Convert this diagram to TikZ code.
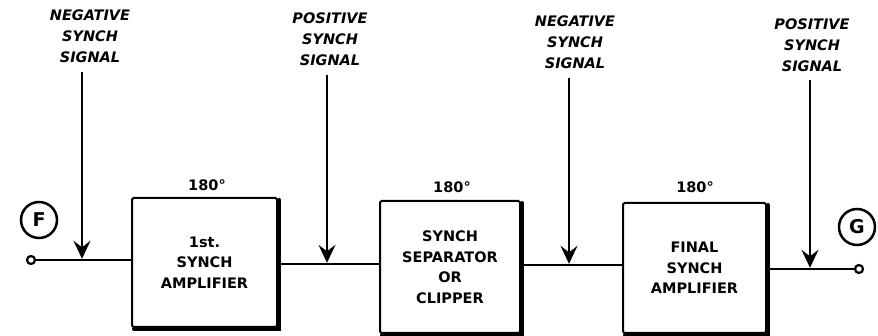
\documentclass[tikz,border=0pt]{standalone}
\usepackage{fontspec}
\setmainfont{DejaVu Sans}
\usetikzlibrary{arrows.meta}
\begin{document}
\begin{tikzpicture}[x=1pt,y=-1pt,
  blockbox/.style={draw, line width=2pt, rounded corners=1.5pt, align=center,
    font=\fontsize{14.5}{20.5}\selectfont\bfseries, inner sep=0pt},
  shadowline/.style={line width=4pt, line cap=round},
  siglabel/.style={align=center, font=\fontsize{14.5}{21}\selectfont\bfseries\itshape, inner sep=0pt},
  degree/.style={font=\fontsize{14.5}{16}\selectfont\bfseries, inner sep=0pt},
  letter/.style={draw, circle, line width=2.5pt, minimum size=36pt, inner sep=0pt,
    font=\fontsize{19}{21}\selectfont\bfseries},
  terminal/.style={draw, circle, line width=2.2pt, minimum size=8pt, inner sep=0pt, fill=white},
  mainline/.style={line width=2.8pt},
  sigarrow/.style={line width=1.6pt, -{Stealth[length=18pt,width=17pt,inset=6.5pt]}, shorten >=1.2pt}]
\useasboundingbox (0,0) rectangle (878,336);

% blocks
\node[blockbox, minimum width=145pt, minimum height=129pt] (b1) at (204.5,262.5) {1st.\\SYNCH\\AMPLIFIER};
\node[blockbox, minimum width=140pt, minimum height=132pt] (b2) at (450,267) {SYNCH\\SEPARATOR\\OR\\CLIPPER};
\node[blockbox, minimum width=143pt, minimum height=130pt] (b3) at (694.5,268) {FINAL\\SYNCH\\AMPLIFIER};

\foreach \b in {b1,b2,b3}{
  \draw[shadowline] ([xshift=1pt,yshift=-3pt]\b.north east) -- ([xshift=1pt,yshift=-1pt]\b.south east) -- ([xshift=3pt,yshift=-1pt]\b.south west);
}

% phase labels
\node[degree] (d1) at (207,185) {180°};
\node[degree] (d2) at (452,187) {180°};
\node[degree] (d3) at (695,187) {180°};

% terminals and letters
\node[terminal] (tF) at (31,260) {};
\node[terminal] (tG) at (859,269) {};
\node[letter] (F) at (39,220) {F};
\node[letter] (G) at (857,227) {G};

% junction points
\coordinate (j1) at (82,260);
\coordinate (j2) at (327,264);
\coordinate (j3) at (569,265);
\coordinate (j4) at (810,269);

% main signal line
\draw[mainline] (tF.east) -- (tF.east -| b1.west);
\draw[mainline] (b1.east |- j2) -- (b2.west |- j2);
\draw[mainline] (b2.east |- j3) -- (b3.west |- j3);
\draw[mainline] (b3.east |- j4) -- (tG.west);

% signal labels
\node[siglabel] (s1) at (90,36) {NEGATIVE\\SYNCH\\SIGNAL};
\node[siglabel] (s2) at (330,39) {POSITIVE\\SYNCH\\SIGNAL};
\node[siglabel] (s3) at (575,42) {NEGATIVE\\SYNCH\\SIGNAL};
\node[siglabel] (s4) at (812,45) {POSITIVE\\SYNCH\\SIGNAL};

% signal arrows
\coordinate (a1) at (82,72);
\coordinate (a2) at (327,75);
\coordinate (a3) at (569,78);
\coordinate (a4) at (810,80);
\draw[sigarrow] (a1) -- (j1);
\draw[sigarrow] (a2) -- (j2);
\draw[sigarrow] (a3) -- (j3);
\draw[sigarrow] (a4) -- (j4);
\end{tikzpicture}
\end{document}
